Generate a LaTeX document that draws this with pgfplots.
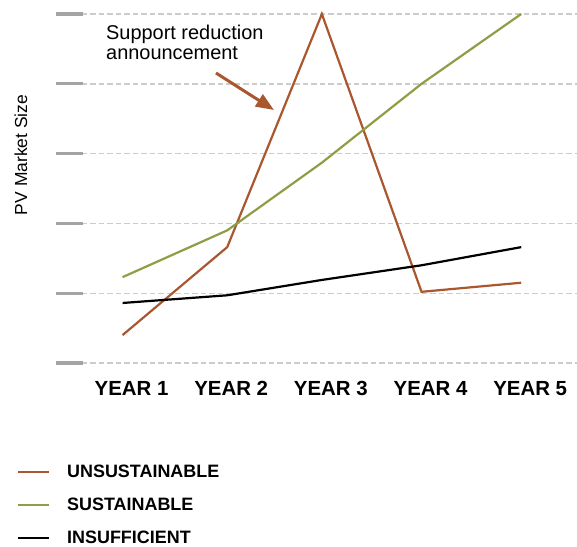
\documentclass[border=0pt]{standalone}
\usepackage{pgfplots}
\pgfplotsset{compat=1.18}
\usepackage{fontspec}
\setmainfont{Liberation Sans}
\usetikzlibrary{arrows.meta}
\definecolor{unsus}{HTML}{A9572E}
\definecolor{sus}{HTML}{8F9D45}
\definecolor{gridgray}{HTML}{CCCCCC}
\definecolor{tickgray}{HTML}{A4A4A4}

\begin{document}
\begin{tikzpicture}
\useasboundingbox (0,0) rectangle (577bp,547bp);
\begin{axis}[
  at={(56bp,184bp)}, anchor=south west,
  scale only axis, width=521bp, height=349bp,
  xmin=0.332, xmax=5.56, ymin=0, ymax=5,
  clip=false,
  axis lines=left,
  axis line style={draw=none,-},
  xtick={1,2,3,4,5},
  xticklabels={YEAR 1,YEAR 2,YEAR 3,YEAR 4,YEAR 5},
  xtick style={draw=none},
  xticklabel style={font=\bfseries\fontsize{20.5}{24}\selectfont, anchor=base, yshift=-32bp, xshift=9bp, inner sep=0pt},
  ytick={0,1,2,3,4,5},
  yticklabels={,,,,,},
  ymajorgrids,
  major grid style={draw=gridgray, line width=1.4bp, dash pattern=on 5.5bp off 3bp},
  ytick style={draw=tickgray, line width=3.2bp, solid},
  tick align=inside,
  major tick length=27bp,
  legend cell align=left,
  legend image code/.code={\draw[#1] (0bp,0bp) -- (31bp,0bp);},
  legend style={at={(axis description cs:-0.0749,-0.292)}, anchor=north west,
    draw=none, fill=none, inner sep=0pt, outer sep=0pt, row sep=19bp,
    font=\bfseries\fontsize{18}{20}\selectfont, nodes={inner sep=0pt},
    /tikz/every odd column/.append style={column sep=17bp}},
]
% Unsustainable growth: boom followed by collapse
\addplot[color=unsus, line width=2.2bp] coordinates {
  (1,0.40) (2.05,1.66) (3,5.0) (4,1.02) (5,1.15)};
\addlegendentry{UNSUSTAINABLE}
% Sustainable growth
\addplot[color=sus, line width=2.2bp] coordinates {
  (1,1.23) (2.05,1.90) (3,2.87) (4,4.0) (5,5.0)};
\addlegendentry{SUSTAINABLE}
% Insufficient support
\addplot[color=black, line width=2.2bp] coordinates {
  (1,0.86) (2.05,0.97) (3,1.19) (4,1.40) (5,1.66)};
\addlegendentry{INSUFFICIENT}
\end{axis}
% axis title
\node[rotate=90, font=\fontsize{17.5}{20}\selectfont] at (21bp,392bp) {PV Market Size};
% annotation
\node[anchor=base west, inner sep=0pt, font=\fontsize{20}{20}\selectfont] at (106bp,507bp) {Support reduction};
\node[anchor=base west, inner sep=0pt, font=\fontsize{20}{20}\selectfont] at (106bp,487bp) {announcement};
\draw[unsus, line width=3bp, -{Triangle[length=18bp,width=14bp]}] (216bp,474bp) -- (274bp,437bp);
\end{tikzpicture}
\end{document}
